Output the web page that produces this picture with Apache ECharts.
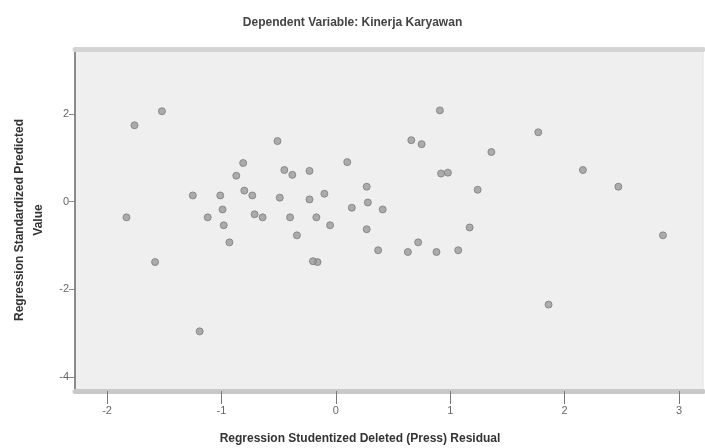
<!DOCTYPE html>
<html>
<head>
<meta charset="utf-8">
<script src="https://cdn.jsdelivr.net/npm/echarts@6/dist/echarts.min.js"></script>
<style>
  html, body { margin: 0; padding: 0; background: #fff; }
  #chart { width: 705px; height: 448px; }
</style>
</head>
<body>
<div id="chart"></div>
<script>
// studentized deleted residual (x) vs standardized predicted value (y)
const residual = [
  -1.52, -1.76, -0.51, -0.81, -0.87, -0.45, -0.38, -0.23, 0.10, -1.25,
  -1.01, -0.80, -0.73, -0.49, -0.23, -0.10, 0.27, 0.28, 0.41, 0.14,
  -1.83, -1.12, -0.99, -0.98, -0.71, -0.64, -0.40, -0.17, -0.05, 0.27,
  -0.93, -0.34, 0.37, -1.58, -0.16, -1.19, 0.91, 0.66, 0.75, 1.36,
  1.77, 0.98, 1.24, 2.16, 2.47, 1.17, 0.72, 0.63, 0.88, 1.07,
  2.86, 1.86, 0.92, -0.20
];
const predicted = [
  2.06, 1.74, 1.38, 0.88, 0.59, 0.72, 0.61, 0.70, 0.90, 0.14,
  0.14, 0.25, 0.14, 0.09, 0.05, 0.18, 0.34, -0.02, -0.18, -0.14,
  -0.36, -0.36, -0.18, -0.54, -0.29, -0.36, -0.36, -0.36, -0.54, -0.63,
  -0.93, -0.77, -1.11, -1.38, -1.38, -2.96, 2.08, 1.40, 1.31, 1.13,
  1.58, 0.66, 0.27, 0.72, 0.34, -0.59, -0.93, -1.15, -1.15, -1.11,
  -0.77, -2.35, 0.64, -1.36
];
const xTicks = [-2, -1, 0, 1, 2, 3];
const yTicks = [2, 0, -2, -4];

const points = residual.map((x, i) => [x, predicted[i]]);

const chart = echarts.init(document.getElementById('chart'));
chart.setOption({
  animation: false,
  backgroundColor: '#ffffff',
  textStyle: { fontFamily: 'Liberation Sans, Arial, sans-serif' },
  title: {
    text: 'Dependent Variable: Kinerja Karyawan',
    left: 'center',
    top: 12,
    textStyle: { fontSize: 12, fontWeight: 'bold', color: '#444' }
  },
  grid: {
    left: 75, right: 2, top: 49, bottom: 57,
    outerBoundsMode: 'none',
    show: true,
    backgroundColor: '#efefef',
    borderColor: '#e2e2e2',
    borderWidth: 1
  },
  xAxis: [{
    type: 'value',
    min: -2.28, max: 3.21,
    name: 'Regression Studentized Deleted (Press) Residual',
    nameLocation: 'middle',
    nameGap: 42,
    nameTextStyle: { fontSize: 12, fontWeight: 'bold', color: '#333', padding: [0, 58, 0, 0] },
    splitLine: { show: false },
    axisLine: { show: true, onZero: false, lineStyle: { color: '#c9c9c9', width: 5 } },
    axisTick: { show: true, length: 13, customValues: xTicks, lineStyle: { color: '#777' } },
    axisLabel: { customValues: xTicks, margin: 14, fontSize: 11, color: '#666' }
  }, {
    type: 'value',
    position: 'top',
    min: -2.28, max: 3.21,
    splitLine: { show: false },
    axisLine: { show: true, onZero: false, lineStyle: { color: '#d4d4d4', width: 5 } },
    axisTick: { show: false },
    axisLabel: { show: false }
  }],
  yAxis: {
    type: 'value',
    min: -4.32, max: 3.48,
    name: 'Regression Standardized Predicted\nValue',
    nameLocation: 'middle',
    nameGap: 27,
    nameRotate: 90,
    nameTextStyle: { fontSize: 12, fontWeight: 'bold', color: '#333', lineHeight: 19 },
    splitLine: { show: false },
    axisLine: { show: true, onZero: false, lineStyle: { color: '#8a8a8a', width: 2 } },
    axisTick: { show: true, length: 6, customValues: yTicks, lineStyle: { color: '#888' } },
    axisLabel: { customValues: yTicks, margin: 6, fontSize: 11, color: '#666' }
  },
  series: [{
    type: 'scatter',
    data: points,
    symbol: 'circle',
    symbolSize: 7,
    itemStyle: { color: '#9a9a9a', borderColor: '#7c7c7c', borderWidth: 1 }
  }]
});
</script>
</body>
</html>
